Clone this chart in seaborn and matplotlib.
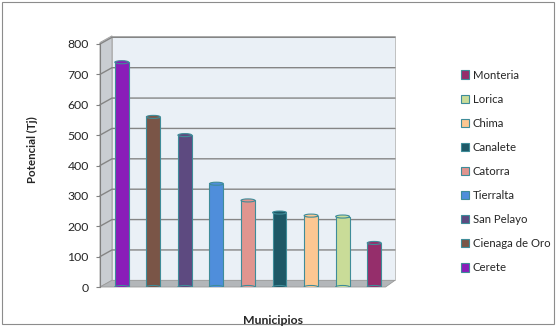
import matplotlib
matplotlib.use('Agg')
import matplotlib.pyplot as plt
from matplotlib.patches import Ellipse, Patch, Polygon
import seaborn as sns
import pandas as pd

# datos
municipios = ['Cerete', 'Cienaga de Oro', 'San Pelayo', 'Tierralta', 'Catorra',
              'Canalete', 'Chima', 'Lorica', 'Monteria']
potencial = [740, 560, 500, 340, 285, 245, 235, 232, 145]
colores = ['#8A1DB9', '#7A5547', '#5D4A80', '#4F8EDB', '#E0958F',
           '#1E5866', '#FCC792', '#C9DC98', '#952E6B']
ticks_y = [0, 100, 200, 300, 400, 500, 600, 700, 800]

df = pd.DataFrame({'municipio': municipios, 'potencial': potencial})

sns.set_theme(style='white')
plt.rcParams['font.family'] = ['Lato', 'DejaVu Sans']

fig = plt.figure(figsize=(5.56, 3.26), dpi=100)
fig.patch.set_facecolor('white')
fig.patches.append(plt.Rectangle((0.004, 0.006), 0.992, 0.988, transform=fig.transFigure,
                                 fill=False, edgecolor='#8C8C8C', linewidth=0.8))

ax = fig.add_axes([100 / 556, 39 / 326, 295 / 556, 243 / 326])
ax.set_facecolor('white')
x0, x1 = -0.69, 8.66
wall = x0 + 0.38

# pared del fondo y lateral, piso
ax.add_patch(plt.Rectangle((wall, 22), x1 - wall, 805, facecolor='#EAF0F6', edgecolor='#B8B8B8',
                           linewidth=0.6, zorder=0, clip_on=False))
ax.add_patch(Polygon([(x0, 0), (wall, 22), (wall, 827), (x0, 805)], closed=True,
                     facecolor='#C9CDD2', edgecolor='#A0A0A0', linewidth=0.6, zorder=0, clip_on=False))
ax.add_patch(Polygon([(x0, 0), (x1 - 0.3, 0), (x1, 22), (wall, 22)], closed=True,
                     facecolor='#B3B6B9', edgecolor='#9A9A9A', linewidth=0.6, zorder=1, clip_on=False))
for t in ticks_y[1:]:
    ax.plot([x0, wall, x1], [t, t + 22, t + 22], color='#858585', linewidth=1.0, zorder=1, clip_on=False)

sns.barplot(data=df, x='municipio', y='potencial', hue='municipio', palette=colores,
            saturation=1, width=0.44, edgecolor='#3F8C99', linewidth=0.8, legend=False,
            ax=ax, zorder=2)

for i, (v, c) in enumerate(zip(potencial, colores)):
    ax.add_patch(Ellipse((i, v), 0.44, 10, facecolor=c, edgecolor='#3F8C99', linewidth=0.8, zorder=3))
    ax.add_patch(Ellipse((i, 0), 0.44, 10, facecolor=c, edgecolor='#3F8C99', linewidth=0.8, zorder=2))

ax.set_xlim(x0, x1)
ax.set_ylim(0, 800)
ax.set_yticks(ticks_y)
ax.set_yticklabels([str(t) for t in ticks_y], fontsize=8.8)
ax.set_xticks([])
ax.tick_params(axis='y', length=3, width=0.8, color='#808080', left=True, pad=5)
for s in ['top', 'right', 'bottom']:
    ax.spines[s].set_visible(False)
ax.spines['left'].set_color('#808080')
ax.spines['left'].set_linewidth(0.8)

ax.set_xlabel('')
ax.set_ylabel('')
fig.text(32 / 556, 1 - 150 / 326, 'Potencial (Tj)', rotation=90, fontsize=8.3, fontweight='bold',
         ha='center', va='center')
fig.text(273 / 556, 1 - 321 / 326, 'Municipios', fontsize=8.8, fontweight='bold',
         ha='center', va='center')

handles = [Patch(facecolor=c, edgecolor='#3F8C99', linewidth=0.8, label=m)
           for m, c in zip(municipios, colores)][::-1]
fig.legend(handles=handles, loc='upper left', bbox_to_anchor=(456 / 556, 1 - 65 / 326),
           frameon=False, fontsize=8.2, handlelength=0.75, handleheight=0.75,
           handletextpad=0.3, labelspacing=1.15, borderaxespad=0)

fig.savefig('out.png', dpi=100)
